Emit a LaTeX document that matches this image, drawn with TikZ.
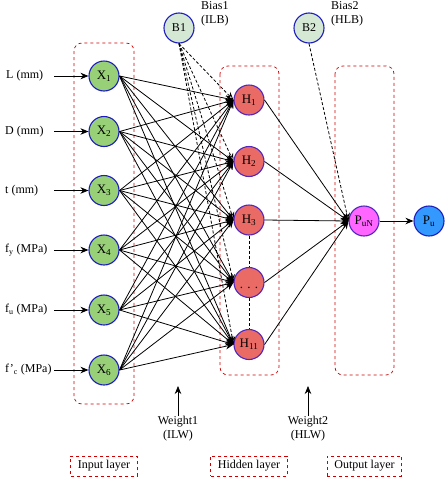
\documentclass[tikz,border=0pt]{standalone}
\usepackage{fontspec}
\setmainfont{Liberation Serif}
\usetikzlibrary{arrows.meta}
\definecolor{xfill}{RGB}{151,208,119}
\definecolor{hfill}{RGB}{234,107,102}
\definecolor{bfill}{RGB}{213,232,212}
\definecolor{pnfill}{RGB}{255,102,255}
\definecolor{pfill}{RGB}{51,153,255}
\definecolor{nborder}{RGB}{30,30,190}
\definecolor{hborder}{RGB}{80,40,190}
\definecolor{boxred}{RGB}{204,0,0}
\tikzset{
  neuron/.style={circle,draw=nborder,line width=1.1pt,minimum size=30pt,inner sep=0pt,font=\fontsize{13}{15}\selectfont},
  xnode/.style={neuron,fill=xfill},
  hnode/.style={neuron,fill=hfill,draw=hborder},
  bnode/.style={neuron,fill=bfill,font=\fontsize{12}{14}\selectfont},
  pnnode/.style={neuron,fill=pnfill,draw=hborder},
  pnode/.style={neuron,fill=pfill},
  lbl/.style={font=\fontsize{12}{14}\selectfont,inner sep=0pt},
  layerbox/.style={draw=boxred,dashed,line width=0.7pt,rounded corners=8pt},
  tagbox/.style={draw=boxred,dashed,line width=0.7pt,inner xsep=7pt,inner ysep=3pt,minimum height=20pt,font=\fontsize{12}{14}\selectfont},
  conn/.style={line width=0.8pt,-{Stealth[length=8pt,width=6.5pt]}},
  bconn/.style={line width=0.8pt,dashed,dash pattern=on 3pt off 2pt,-{Stealth[length=8pt,width=6.5pt,open]}},
  vdash/.style={line width=0.8pt,dashed,dash pattern=on 3pt off 2pt},
}
\begin{document}
\begin{tikzpicture}[x=1pt,y=-1pt]
\useasboundingbox[fill=white] (0,0) rectangle (445,477);
% layer boxes
\draw[layerbox] (74,43) rectangle (134,404);
\draw[layerbox] (220,66) rectangle (279,375);
\draw[layerbox] (335,66) rectangle (394,375);
% input nodes
\foreach \i/\y in {1/76,2/131.5,3/190.5,4/250,5/310,6/370}{
  \node[xnode] (x\i) at (104,\y) {X\textsubscript{\i}};
  \coordinate (a\i) at (54,\y);
}
\node[lbl,anchor=west] (l1) at (6,76) {L (mm)};
\node[lbl,anchor=west] (l2) at (5,131.5) {D (mm)};
\node[lbl,anchor=west] (l3) at (5,190.5) {t (mm)};
\node[lbl,anchor=west] (l4) at (5,250) {f\textsubscript{y} (MPa)};
\node[lbl,anchor=west] (l5) at (5,310) {f\textsubscript{u} (MPa)};
\node[lbl,anchor=west] (l6) at (5,370) {f'\textsubscript{c} (MPa)};
% hidden nodes
\node[hnode] (h1) at (249,100) {H\textsubscript{1}};
\node[hnode] (h2) at (249,161.5) {H\textsubscript{2}};
\node[hnode] (h3) at (249,220) {H\textsubscript{3}};
\node[hnode] (hd) at (249,282.5) {\vphantom{H}\raisebox{-3pt}{. . .}};
\node[hnode] (h11) at (249,344.5) {H\textsubscript{11}};
% bias
\node[bnode] (b1) at (179,28) {B1};
\node[bnode] (b2) at (309,28) {B2};
\node[lbl,align=left,anchor=north west] (bl1) at (201,1) {Bias1\\(ILB)};
\node[lbl,align=left,anchor=north west] (bl2) at (331,1) {Bias2\\(HLB)};
% output
\node[pnnode] (pn) at (364,221) {P\textsubscript{uN}};
\node[pnode] (pu) at (429,221) {P\textsubscript{u}};
% input arrows
\foreach \i in {1,...,6}{ \draw[conn] (a\i) -- (x\i.west); }
% weights input->hidden
\foreach \i in {1,...,6}{
  \foreach \j in {h1,h2,h3,hd,h11}{
    \draw[conn] (x\i.east) -- (\j.west);
  }
}
% bias1
\foreach \j in {h1,h2,h3,hd,h11}{ \draw[bconn] (b1.south) -- (\j.west); }
% hidden->output
\foreach \j in {h1,h2,h3,hd,h11}{ \draw[conn] (\j.east) -- (pn.west); }
\draw[bconn] (b2.south) -- (pn.west);
\draw[conn] (pn.east) -- (pu.west);
% vertical dashes
\draw[vdash] (h3.south) -- (hd.north);
\draw[vdash] (hd.south) -- (h11.north);
% weight labels
\node[lbl,align=center,anchor=north] (w1) at (178,416) {Weight1\\(ILW)};
\node[lbl,align=center,anchor=north] (w2) at (308,416) {Weight2\\(HLW)};
\coordinate (w1t) at (178,386);
\coordinate (w2t) at (308,386);
\draw[conn] (w1.north) -- (w1t);
\draw[conn] (w2.north) -- (w2t);
% layer tags
\node[tagbox] (t1) at (104,466) {Input layer};
\node[tagbox] (t2) at (249,466) {Hidden layer};
\node[tagbox] (t3) at (364.5,466) {Output layer};
\end{tikzpicture}
\end{document}
